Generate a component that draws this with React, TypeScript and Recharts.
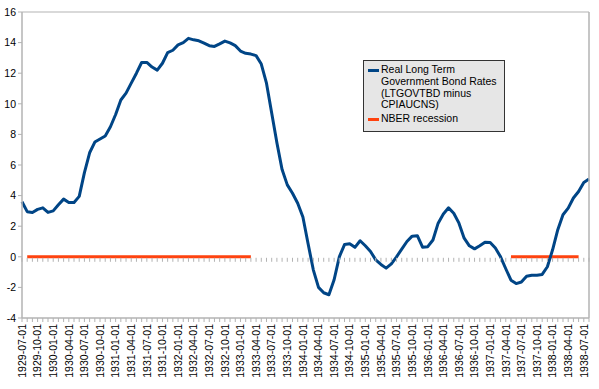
import { LineChart, Line, XAxis, YAxis, CartesianGrid, Legend } from 'recharts';

// monthly observations, 1929-07 .. 1938-08
const months = [
  '1929-07-01', '1929-08-01', '1929-09-01', '1929-10-01', '1929-11-01', '1929-12-01',
  '1930-01-01', '1930-02-01', '1930-03-01', '1930-04-01', '1930-05-01', '1930-06-01',
  '1930-07-01', '1930-08-01', '1930-09-01', '1930-10-01', '1930-11-01', '1930-12-01',
  '1931-01-01', '1931-02-01', '1931-03-01', '1931-04-01', '1931-05-01', '1931-06-01',
  '1931-07-01', '1931-08-01', '1931-09-01', '1931-10-01', '1931-11-01', '1931-12-01',
  '1932-01-01', '1932-02-01', '1932-03-01', '1932-04-01', '1932-05-01', '1932-06-01',
  '1932-07-01', '1932-08-01', '1932-09-01', '1932-10-01', '1932-11-01', '1932-12-01',
  '1933-01-01', '1933-02-01', '1933-03-01', '1933-04-01', '1933-05-01', '1933-06-01',
  '1933-07-01', '1933-08-01', '1933-09-01', '1933-10-01', '1933-11-01', '1933-12-01',
  '1934-01-01', '1934-02-01', '1934-03-01', '1934-04-01', '1934-05-01', '1934-06-01',
  '1934-07-01', '1934-08-01', '1934-09-01', '1934-10-01', '1934-11-01', '1934-12-01',
  '1935-01-01', '1935-02-01', '1935-03-01', '1935-04-01', '1935-05-01', '1935-06-01',
  '1935-07-01', '1935-08-01', '1935-09-01', '1935-10-01', '1935-11-01', '1935-12-01',
  '1936-01-01', '1936-02-01', '1936-03-01', '1936-04-01', '1936-05-01', '1936-06-01',
  '1936-07-01', '1936-08-01', '1936-09-01', '1936-10-01', '1936-11-01', '1936-12-01',
  '1937-01-01', '1937-02-01', '1937-03-01', '1937-04-01', '1937-05-01', '1937-06-01',
  '1937-07-01', '1937-08-01', '1937-09-01', '1937-10-01', '1937-11-01', '1937-12-01',
  '1938-01-01', '1938-02-01', '1938-03-01', '1938-04-01', '1938-05-01', '1938-06-01',
  '1938-07-01', '1938-08-01',
];

// LTGOVTBD minus CPIAUCNS, percent
const realRate = [
  3.6, 2.95, 2.9, 3.1, 3.2, 2.9, 3.0, 3.4, 3.77, 3.55, 3.55, 3.95,
  5.5, 6.8, 7.5, 7.7, 7.9, 8.5, 9.3, 10.25, 10.7, 11.35, 12.0, 12.7,
  12.7, 12.4, 12.2, 12.65, 13.35, 13.5, 13.85, 14.0, 14.28, 14.18, 14.12, 13.97,
  13.8, 13.75, 13.92, 14.1, 13.98, 13.8, 13.45, 13.3, 13.25, 13.15, 12.6, 11.35,
  9.4, 7.45, 5.7, 4.7, 4.15, 3.5, 2.6, 0.85, -0.85, -2.0, -2.35, -2.48,
  -1.5, 0.0, 0.8, 0.85, 0.62, 1.05, 0.72, 0.35, -0.2, -0.5, -0.74, -0.46,
  0.0, 0.5, 1.0, 1.35, 1.38, 0.63, 0.66, 1.1, 2.2, 2.8, 3.2, 2.85,
  2.2, 1.22, 0.72, 0.52, 0.72, 0.95, 0.94, 0.57, 0.0, -0.78, -1.53, -1.75,
  -1.65, -1.27, -1.2, -1.2, -1.15, -0.65, 0.46, 1.77, 2.75, 3.18, 3.84, 4.27,
  4.86, 5.08,
];

// NBER recession periods (first and last month)
const recessionStarts = ['1929-08-01', '1937-05-01'];
const recessionEnds = ['1933-03-01', '1938-06-01'];

const yTicks = [-4, -2, 0, 2, 4, 6, 8, 10, 12, 14, 16];

const FONT = '"Liberation Sans", Arial, sans-serif';
const GRID = '#b3b3b3';
const BLUE = '#004586';
const RED = '#ff420e';

const chartData = months.map((date, i) => ({
  date,
  rate: realRate[i],
  recession: recessionStarts.some((s, k) => date >= s && date <= recessionEnds[k]) ? 0 : null,
  zero: 0,
}));

// only every third month gets a label, but every month keeps its tick line
const DateTick = (props: any) => {
  const { x, y, payload, index } = props;
  if (index % 3 !== 0) return null;
  return (
    <text
      x={x}
      y={y}
      transform={`rotate(-90, ${x}, ${y})`}
      textAnchor="end"
      dy="0.36em"
      fontSize={10.5}
      fontFamily={FONT}
      fill="#000"
    >
      {payload.value}
    </text>
  );
};

// small tick marks hanging under the zero line
const ZeroTick = (props: any) => {
  const { cx, cy, index } = props;
  return <line key={`zt-${index}`} x1={cx} y1={cy + 1} x2={cx} y2={cy + 5} stroke={GRID} strokeWidth={1} />;
};

const LegendBox = () => {
  const swatch = (color: string) => (
    <span style={{ display: 'inline-block', width: 11, height: 3, background: color, marginTop: 4.5, marginRight: 2, flex: 'none' }} />
  );
  return (
    <div
      style={{
        background: '#e6e6e6',
        border: '1.5px solid #333',
        boxSizing: 'border-box',
        width: 142,
        height: 72,
        padding: '3px 4px 0 4px',
        fontFamily: FONT,
        fontSize: 10.5,
        lineHeight: '11.8px',
        color: '#000',
        textAlign: 'left',
      }}
    >
      <div style={{ display: 'flex' }}>
        {swatch(BLUE)}
        <span>
          Real Long Term
          <br />
          Government Bond Rates
          <br />
          (LTGOVTBD minus
          <br />
          CPIAUCNS)
        </span>
      </div>
      <div style={{ display: 'flex', marginTop: 2 }}>
        {swatch(RED)}
        <span>NBER recession</span>
      </div>
    </div>
  );
};

export default function App() {
  return (
    <div style={{ position: 'absolute', left: 0, top: 0, width: 599, height: 389, background: '#fff', fontFamily: FONT }}>
      <LineChart width={599} height={389} data={chartData} margin={{ top: 12, right: 0, bottom: 0, left: 0 }}>
        <CartesianGrid horizontal vertical={false} stroke={GRID} strokeWidth={1} />
        <XAxis
          dataKey="date"
          scale="point"
          interval={0}
          height={71}
          tick={DateTick}
          tickSize={4}
          tickMargin={2}
          tickLine={{ stroke: GRID }}
          axisLine={{ stroke: GRID }}
        />
        <YAxis
          yAxisId="left"
          domain={[-4, 16]}
          ticks={yTicks}
          width={22}
          tickSize={4}
          tickMargin={2}
          tick={{ fontSize: 10.5, fill: '#000', fontFamily: FONT }}
          tickLine={{ stroke: GRID }}
          axisLine={{ stroke: GRID, strokeWidth: 1.5 }}
          allowDataOverflow
        />
        <YAxis
          yAxisId="right"
          orientation="right"
          domain={[-4, 16]}
          width={10}
          tick={false}
          tickLine={false}
          axisLine={{ stroke: GRID, strokeWidth: 1.5 }}
        />
        <Legend
          layout="horizontal"
          verticalAlign="middle"
          align="center"
          content={<LegendBox />}
          wrapperStyle={{ left: 363, top: 60, width: 142, height: 72 }}
        />
        <Line
          yAxisId="left"
          dataKey="zero"
          stroke="none"
          dot={ZeroTick}
          activeDot={false}
          legendType="none"
          isAnimationActive={false}
        />
        <Line
          yAxisId="left"
          dataKey="recession"
          stroke={RED}
          strokeWidth={3}
          dot={false}
          activeDot={false}
          isAnimationActive={false}
        />
        <Line
          yAxisId="left"
          type="linear"
          dataKey="rate"
          stroke={BLUE}
          strokeWidth={3}
          strokeLinejoin="round"
          dot={false}
          activeDot={false}
          isAnimationActive={false}
        />
      </LineChart>
    </div>
  );
}
